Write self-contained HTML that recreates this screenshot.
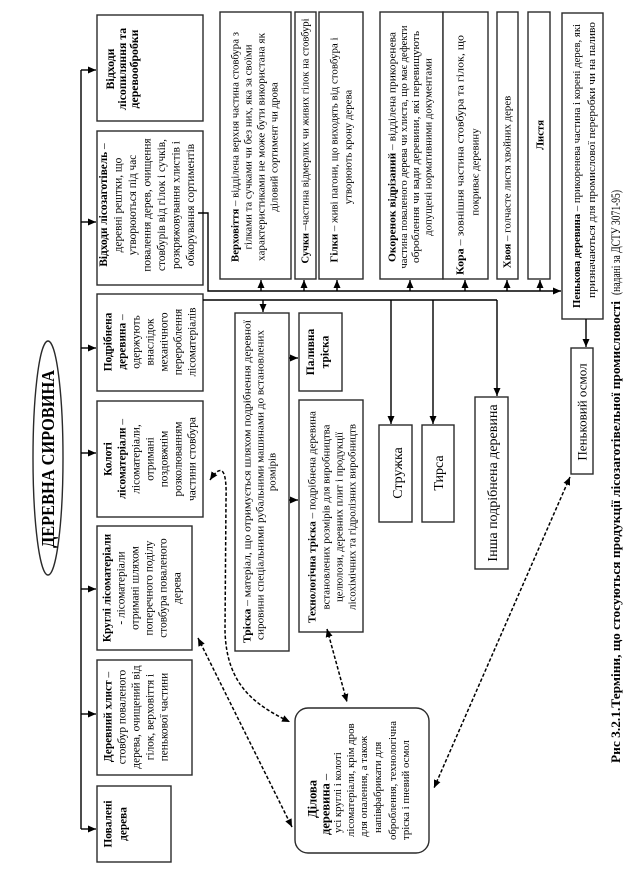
<!DOCTYPE html>
<html><head><meta charset="utf-8"><style>
html,body{margin:0;padding:0;background:#fff;}
svg{display:block;}
text{font-family:"Liberation Serif","DejaVu Serif",serif;fill:#000;}
</style></head><body>
<svg width="624" height="872" viewBox="0 0 624 872" xmlns="http://www.w3.org/2000/svg" font-family="Liberation Serif, DejaVu Serif, serif">
<defs>
<marker id="a" viewBox="0 0 10 10" refX="10" refY="5" markerWidth="8" markerHeight="7" markerUnits="userSpaceOnUse" orient="auto-start-reverse" preserveAspectRatio="none"><path d="M0,0 L10,5 L0,10 z" fill="#000"/></marker>
</defs>
<rect width="624" height="872" fill="#fff"/>
<g transform="translate(0,872) rotate(-90)">
<!-- boxes -->
<g fill="#fff" stroke="#2a2a2a" stroke-width="1.4">
<rect x="751" y="97" width="106" height="106"/>
<rect x="587" y="97" width="154" height="106"/>
<rect x="481" y="97" width="97" height="106"/>
<rect x="355" y="97" width="116" height="106"/>
<rect x="222" y="97" width="124" height="95"/>
<rect x="97" y="97" width="115" height="95"/>
<rect x="10" y="97" width="76" height="74"/>
<rect x="593" y="220" width="267" height="71"/>
<rect x="593" y="295" width="267" height="21"/>
<rect x="593" y="319" width="267" height="44"/>
<rect x="593" y="380" width="267" height="63"/>
<rect x="593" y="443" width="267" height="45"/>
<rect x="593" y="497" width="267" height="21"/>
<rect x="593" y="528" width="267" height="22"/>
<rect x="553" y="562" width="306" height="41"/>
<rect x="398" y="571" width="126" height="22"/>
<rect x="221" y="235" width="338" height="54"/>
<rect x="481" y="299" width="78" height="43"/>
<rect x="240" y="299" width="232" height="64"/>
<rect x="350" y="379" width="97" height="33"/>
<rect x="350" y="422" width="97" height="32"/>
<rect x="303" y="475" width="172" height="33"/>
<rect x="19" y="295" width="145" height="134" rx="13" ry="13"/>
<ellipse cx="414" cy="48" rx="117" ry="15"/>
</g>

<!-- solid connectors -->
<g stroke="#000" stroke-width="1.4" fill="none">
<line x1="43" y1="81" x2="802" y2="81"/>
<line x1="802" y1="81" x2="802" y2="96" marker-end="url(#a)"/>
<line x1="650" y1="81" x2="650" y2="96" marker-end="url(#a)"/>
<line x1="524" y1="81" x2="524" y2="96" marker-end="url(#a)"/>
<line x1="419" y1="81" x2="419" y2="96" marker-end="url(#a)"/>
<line x1="283" y1="81" x2="283" y2="96" marker-end="url(#a)"/>
<line x1="158" y1="81" x2="158" y2="96" marker-end="url(#a)"/>
<line x1="43" y1="81" x2="43" y2="96" marker-end="url(#a)"/>

<polyline points="659,198 659,208 581,208 581,561" marker-end="url(#a)"/>
<line x1="581" y1="261" x2="592" y2="261" marker-end="url(#a)"/>
<line x1="581" y1="304" x2="592" y2="304" marker-end="url(#a)"/>
<line x1="581" y1="337" x2="592" y2="337" marker-end="url(#a)"/>
<line x1="581" y1="410" x2="592" y2="410" marker-end="url(#a)"/>
<line x1="581" y1="465" x2="592" y2="465" marker-end="url(#a)"/>
<line x1="581" y1="507" x2="592" y2="507" marker-end="url(#a)"/>
<line x1="581" y1="540" x2="592" y2="540" marker-end="url(#a)"/>

<line x1="572" y1="203" x2="572" y2="497"/>
<line x1="572" y1="263" x2="560" y2="263" marker-end="url(#a)"/>
<line x1="572" y1="391" x2="448" y2="391" marker-end="url(#a)"/>
<line x1="572" y1="433" x2="448" y2="433" marker-end="url(#a)"/>
<line x1="572" y1="497" x2="476" y2="497" marker-end="url(#a)"/>

<line x1="514" y1="289" x2="514" y2="298" marker-end="url(#a)"/>
<line x1="372" y1="289" x2="372" y2="298" marker-end="url(#a)"/>
<line x1="553" y1="586" x2="525" y2="586" marker-end="url(#a)"/>
</g>

<!-- dashed connectors -->
<g stroke="#000" stroke-width="1.5" fill="none" stroke-dasharray="3.5,2">
<line x1="234" y1="198" x2="45" y2="292" marker-start="url(#a)" marker-end="url(#a)"/>
<path d="M392,210 C410,222 402,227 372,226 L242,225 C187,226 167,255 150,290" marker-start="url(#a)" marker-end="url(#a)"/>
<line x1="243" y1="327" x2="170" y2="347" marker-start="url(#a)" marker-end="url(#a)"/>
<line x1="395" y1="570" x2="84" y2="434" marker-start="url(#a)" marker-end="url(#a)"/>
</g>

<!-- ellipse title -->
<text x="413" y="54" font-size="18" font-weight="bold" text-anchor="middle" textLength="178" lengthAdjust="spacingAndGlyphs">ДЕРЕВНА СИРОВИНА</text>

<!-- left column texts -->
<g font-size="11.3" text-anchor="middle">
<g font-weight="bold" font-size="11.8">
<text x="803" y="114">Відходи</text>
<text x="803" y="126">лісопиляння та</text>
<text x="803" y="138">деревообробки</text>
</g>

<text x="667" y="107"><tspan font-weight="bold">Відходи лісозаготівель</tspan> –</text>
<text x="667" y="121.5">деревні рештки, що</text>
<text x="667" y="136">утворюються під час</text>
<text x="667" y="150.5">повалення дерев, очищення</text>
<text x="667" y="165">стовбурів від гілок і сучків,</text>
<text x="667" y="179.5">розкряжовування хлистів і</text>
<text x="667" y="194">обкорування сортиментів</text>

<text x="530" y="111.5" font-weight="bold">Подрібнена</text>
<text x="530" y="125.5"><tspan font-weight="bold">деревина</tspan> –</text>
<text x="530" y="139.5">одержують</text>
<text x="530" y="153.5">внаслідок</text>
<text x="530" y="167.5">механічного</text>
<text x="530" y="181.5">перероблення</text>
<text x="530" y="195.5">лісоматеріалів</text>

<text x="413" y="111.5" font-weight="bold">Колоті</text>
<text x="413" y="125.5"><tspan font-weight="bold">лісоматеріали</tspan> –</text>
<text x="413" y="139.5">лісоматеріали,</text>
<text x="413" y="153.5">отримані</text>
<text x="413" y="167.5">поздовжнім</text>
<text x="413" y="181.5">розколюванням</text>
<text x="413" y="195.5">частини стовбура</text>

<text x="284" y="110.5" font-weight="bold">Круглі лісоматеріали</text>
<text x="284" y="124.5">- лісоматеріали</text>
<text x="284" y="138.5">отримані шляхом</text>
<text x="284" y="152.5">поперечного поділу</text>
<text x="284" y="166.5">стовбура поваленого</text>
<text x="284" y="180.5">дерева</text>

<text x="155" y="111.5"><tspan font-weight="bold">Деревний хлист</tspan> –</text>
<text x="155" y="125.5">стовбур поваленого</text>
<text x="155" y="139.5">дерева, очищений від</text>
<text x="155" y="153.5">гілок, верховіття і</text>
<text x="155" y="167.5">пенькової частини</text>

<text x="48" y="111.5" font-weight="bold">Повалені</text>
<text x="48" y="126.5" font-weight="bold">дерева</text>
</g>

<!-- right column texts -->
<g font-size="10.8" text-anchor="middle">
<text x="725" y="238.5" textLength="230" lengthAdjust="spacingAndGlyphs"><tspan font-weight="bold">Верховіття</tspan> – відділена верхня частина стовбура з</text>
<text x="725" y="251.5" textLength="205" lengthAdjust="spacingAndGlyphs">гілками та сучками чи без них, яка за своїми</text>
<text x="725" y="264.5" textLength="228" lengthAdjust="spacingAndGlyphs">характеристиками не може бути використана як</text>
<text x="725" y="277.5">діловий сортимент чи дрова</text>

<text x="731" y="308.5" textLength="245" lengthAdjust="spacingAndGlyphs"><tspan font-weight="bold">Сучки</tspan> –частина відмерлих чи живих гілок на стовбурі</text>

<text x="722" y="337.5" textLength="225" lengthAdjust="spacingAndGlyphs"><tspan font-weight="bold">Гілки</tspan> – живі пагони, що виходять від стовбура і</text>
<text x="725" y="351.5">утворюють крону дерева</text>

<text x="725" y="395.5" textLength="230" lengthAdjust="spacingAndGlyphs"><tspan font-weight="bold">Окоренок відрізаний</tspan> – відділена прикоренева</text>
<text x="725" y="407" textLength="243" lengthAdjust="spacingAndGlyphs">частина поваленого дерева чи хлиста, що має дефекти</text>
<text x="725" y="419" textLength="232" lengthAdjust="spacingAndGlyphs">оброблення чи вади деревини, які перевищують</text>
<text x="725" y="431.5">допущені нормативними документами</text>

<text x="597" y="463.5" text-anchor="start" textLength="240" lengthAdjust="spacingAndGlyphs"><tspan font-weight="bold">Кора</tspan> – зовнішня частина стовбура та гілок, що</text>
<text x="700" y="478.5">покриває деревину</text>

<text x="690" y="510.5"><tspan font-weight="bold">Хвоя</tspan> – голчасте листя хвойних дерев</text>
<text x="737" y="543.5" font-weight="bold">Листя</text>

<text x="564" y="580" text-anchor="start" textLength="284" lengthAdjust="spacingAndGlyphs"><tspan font-weight="bold">Пенькова деревина</tspan> – прикоренева частина і корені дерев, які</text>
<text x="574" y="595" text-anchor="start" textLength="276" lengthAdjust="spacingAndGlyphs">призначаються для промислової переробки чи на паливо</text>

<text x="460" y="586.5" font-size="13">Пеньковий осмол</text>

<text x="229" y="250.5" text-anchor="start" textLength="323" lengthAdjust="spacingAndGlyphs"><tspan font-weight="bold">Тріска</tspan> – матеріал, що отримується шляхом подрібнення деревної</text>
<text x="232" y="263.5" text-anchor="start" textLength="310" lengthAdjust="spacingAndGlyphs">сировини спеціальними рубальними машинами до встановлених</text>
<text x="400" y="275.5">розмірів</text>

<text x="520" y="314" font-weight="bold" font-size="11.5">Паливна</text>
<text x="520" y="328.5" font-weight="bold" font-size="11.5">тріска</text>

<text x="355" y="315.5" textLength="212" lengthAdjust="spacingAndGlyphs"><tspan font-weight="bold">Технологічна тріска</tspan> – подрібнена деревина</text>
<text x="355" y="329.5" textLength="185" lengthAdjust="spacingAndGlyphs">встановлених розмірів для виробництва</text>
<text x="355" y="342.5" textLength="170" lengthAdjust="spacingAndGlyphs">целюлози, деревних плит і продукції</text>
<text x="355" y="355.5" textLength="186" lengthAdjust="spacingAndGlyphs">лісохімічних та гідролізних виробництв</text>

<text x="399" y="402" font-size="14">Стружка</text>
<text x="399" y="443" font-size="14">Тирса</text>
<text x="389" y="497" font-size="14">Інша подрібнена деревина</text>
</g>

<!-- Ділова деревина -->
<g font-size="10.8">
<text x="54" y="316.5" font-size="12.5" font-weight="bold">Ділова</text>
<text x="37" y="329.5" font-size="12.5"><tspan font-weight="bold">деревина</tspan> –</text>
<text x="39" y="341">усі круглі і колоті</text>
<text x="35" y="354">лісоматеріали, крім дров</text>
<text x="35" y="367">для опалення, а також</text>
<text x="39" y="381">напівфабрикати для</text>
<text x="32" y="396">оброблення, технологічна</text>
<text x="32" y="409">тріска і пневий осмол</text>
</g>

<!-- caption -->
<text x="109" y="620" font-size="13" font-weight="bold" textLength="462" lengthAdjust="spacingAndGlyphs">Рис 3.2.1.Терміни, що стосуються продукції лісозаготівельної промисловості</text>
<text x="577" y="620" font-size="13" textLength="105" lengthAdjust="spacingAndGlyphs">(надані за ДСТУ 3071-95)</text>
</g>
</svg>
</body></html>
